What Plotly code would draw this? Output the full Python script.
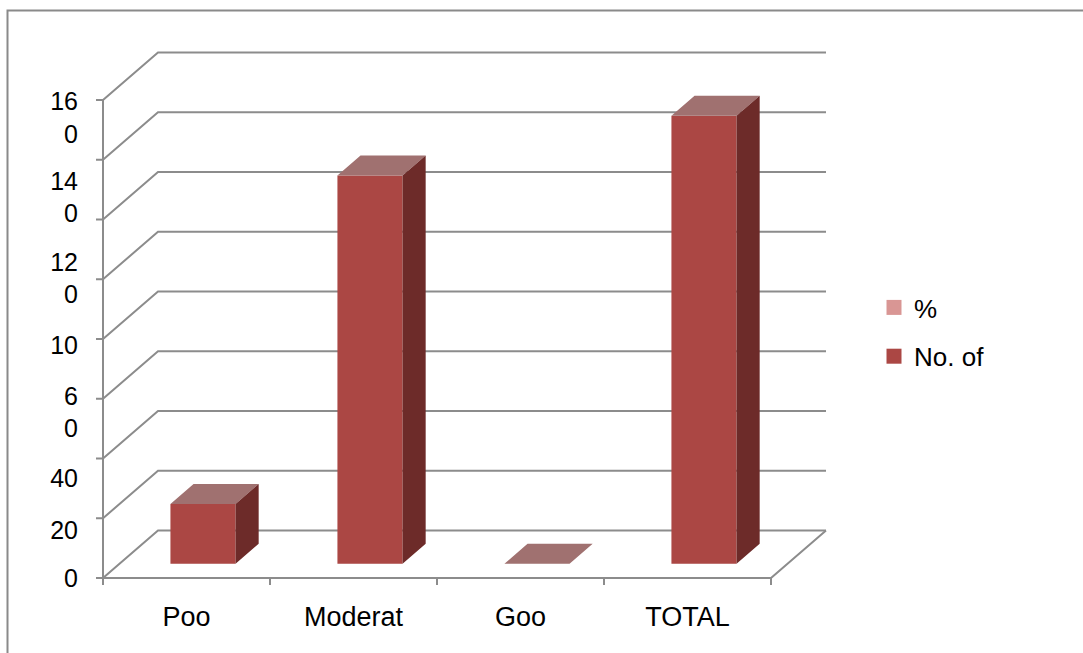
import plotly.graph_objects as go

# ---------------- data ----------------
CATEGORIES = ["Poo", "Moderat", "Goo", "TOTAL"]
PATIENTS = [20, 130, 0, 150]
GRID_VALUES = [0, 20, 40, 60, 80, 100, 120, 140, 160]
Y_TICK_TEXT = ["16<br>0", "14<br>0", "12<br>0", "10", "6<br>0", "40", "20", "0"]
Y_TICK_AT = [154.0, 127.5, 100.3, 78.0, 55.4, 33.5, 16.1, 0.0]
LEGEND_NAMES = ["%", "No. of"]

# ---------------- geometry / style ----------------
W, H = 1083, 653
PX_CAT = 167.0          # pixels per category
PX_VAL = 2.9875         # pixels per value unit
X0PX = 103.0            # pixel of x = -0.5 (front-left corner)
Y0PX = 578.0            # pixel of y = 0 (front floor)
DX = 55.0 / PX_CAT      # depth shift in category units
DY = 47.5 / PX_VAL      # depth shift in value units
HALF = 0.195            # half bar width
D1, D2 = 0.30, 0.72     # bar depth start / end (fraction of full depth)
NCAT = len(CATEGORIES)
VMAX = GRID_VALUES[-1]

GRID_COLOR = "#8c8c8c"
FRONT = "#ab4744"
TOP = "#a07170"
SIDE = "#6d2b29"
PCT_COLOR = "#d99694"
FONT = "Liberation Sans, Arial, sans-serif"

xl = -0.5 - 12 / PX_CAT
xr = NCAT - 0.5 + DX + 6 / PX_CAT
yb = -14 / PX_VAL
yt = VMAX + DY + 6 / PX_VAL
dom_x = [(X0PX - 12) / W, (X0PX + (NCAT + DX) * PX_CAT + 6) / W]
dom_y = [1 - (Y0PX + 14) / H, 1 - (Y0PX - yt * PX_VAL) / H]

# ---------------- walls / grid ----------------
gx, gy = [], []
tick_dx = 7 / PX_CAT
tick_dy = 7 / PX_VAL
for v in GRID_VALUES:
    gx += [-0.5 - tick_dx, -0.5, -0.5 + DX, NCAT - 0.5 + DX, None]
    gy += [v, v, v + DY, v + DY, None]
gx += [-0.5, -0.5, None]
gy += [0, VMAX, None]
gx += [-0.5, NCAT - 0.5, NCAT - 0.5 + DX, None]
gy += [0, 0, DY, None]
for i in range(NCAT + 1):
    gx += [i - 0.5, i - 0.5, None]
    gy += [0, -tick_dy, None]

fig = go.Figure()
fig.add_trace(go.Scatter(x=gx, y=gy, mode="lines", showlegend=False, hoverinfo="skip",
                         line=dict(color=GRID_COLOR, width=2)))

# ---------------- 3D bars ----------------
fx, fy, tx, ty, sx, sy = [], [], [], [], [], []
for i, v in enumerate(PATIENTS):
    a, b = i - HALF, i + HALF
    o1x, o1y = D1 * DX, D1 * DY
    o2x, o2y = D2 * DX, D2 * DY
    if v > 0:
        fx += [a + o1x, b + o1x, b + o1x, a + o1x, a + o1x, None]
        fy += [o1y, o1y, v + o1y, v + o1y, o1y, None]
        sx += [b + o1x, b + o2x, b + o2x, b + o1x, b + o1x, None]
        sy += [o1y, o2y, v + o2y, v + o1y, o1y, None]
    tx += [a + o1x, b + o1x, b + o2x, a + o2x, a + o1x, None]
    ty += [v + o1y, v + o1y, v + o2y, v + o2y, v + o1y, None]

for xs, ys, col in [(fx, fy, FRONT), (tx, ty, TOP), (sx, sy, SIDE)]:
    fig.add_trace(go.Scatter(x=xs, y=ys, mode="lines", fill="toself", fillcolor=col,
                             line=dict(width=0, color=col), showlegend=False,
                             hoverinfo="skip"))

# legend entries
for name, col in zip(LEGEND_NAMES, [PCT_COLOR, FRONT]):
    fig.add_trace(go.Scatter(x=[None], y=[None], mode="markers", name=name,
                             legendgroup=name,
                             marker=dict(symbol="square", size=15, color=col)))

fig.update_layout(
    width=W, height=H,
    margin=dict(l=0, r=0, t=0, b=0),
    paper_bgcolor="white", plot_bgcolor="rgba(0,0,0,0)",
    font=dict(family=FONT, color="black"),
    showlegend=True,
    legend=dict(x=874 / W, y=1 - 284 / H, xanchor="left", yanchor="top",
                font=dict(size=26, family=FONT), tracegroupgap=12,
                bgcolor="rgba(0,0,0,0)"),
    xaxis=dict(domain=dom_x, range=[xl, xr], showgrid=False, zeroline=False,
               showline=False, ticks="", tickmode="array",
               tickvals=list(range(NCAT)), ticktext=CATEGORIES,
               tickfont=dict(size=27), ticklabelstandoff=6, automargin=False,
               fixedrange=True),
    yaxis=dict(domain=dom_y, range=[yb, yt], showgrid=False, zeroline=False,
               showline=False, ticks="", tickmode="array",
               tickvals=Y_TICK_AT, ticktext=Y_TICK_TEXT,
               tickfont=dict(size=25), ticklabelstandoff=12, automargin=False,
               fixedrange=True),
    shapes=[dict(type="rect", xref="paper", yref="paper",
                 x0=7.5 / W, x1=1.05, y0=-0.05, y1=1 - 10.5 / H,
                 line=dict(color="#8a8a8a", width=2), fillcolor="rgba(0,0,0,0)",
                 layer="below")],
)

fig.write_html("out.html")
